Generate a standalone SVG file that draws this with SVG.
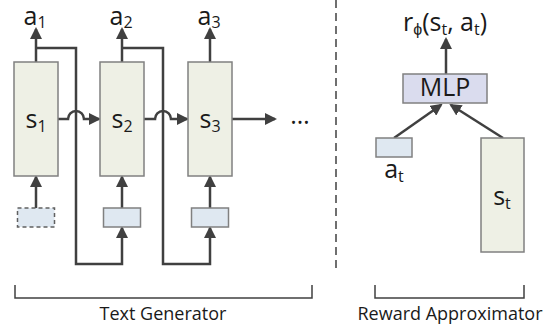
<svg xmlns="http://www.w3.org/2000/svg" width="557" height="329" viewBox="0 0 557 329">
<style>
  .sbox { fill: #eef0e5; stroke: #808080; stroke-width: 1.5; }
  .ibox { fill: #dfe8f1; stroke: #808080; stroke-width: 1.5; }
  .dbox { fill: #dfe8f1; stroke: #606060; stroke-width: 1.5; stroke-dasharray: 4 3; }
  .mlp { fill: #dadcee; stroke: #808080; stroke-width: 1.5; }
  .ln { fill: none; stroke: #404040; stroke-width: 2.5; }
  .br { fill: none; stroke: #404040; stroke-width: 1.5; }
  .lbl { font-family: "Open Sans", "Liberation Sans", sans-serif; font-size: 25px; fill: #1a1a1a; }
  .cap { font-family: "Open Sans", "Liberation Sans", sans-serif; font-size: 18px; fill: #1a1a1a; }
  .sub { font-size: 16px; }
</style>
<defs>
  <marker id="ah" markerUnits="userSpaceOnUse" markerWidth="12" markerHeight="12" viewBox="0 0 12 12" refX="10" refY="6" orient="auto">
    <path d="M0,0 L12,6 L0,12 z" fill="#404040"/>
  </marker>
</defs>

<g id="connectors">
  <line class="ln" x1="36" y1="62" x2="36" y2="29" marker-end="url(#ah)"/>
  <line class="ln" x1="122" y1="62" x2="122" y2="29" marker-end="url(#ah)"/>
  <line class="ln" x1="210" y1="62" x2="210" y2="29" marker-end="url(#ah)"/>
  <path class="ln" d="M36,48 H76 V264 H122 V228" marker-end="url(#ah)"/>
  <path class="ln" d="M122,48 H163 V264 H210 V228" marker-end="url(#ah)"/>
  <line class="ln" x1="36" y1="208" x2="36" y2="177" marker-end="url(#ah)"/>
  <line class="ln" x1="122" y1="208" x2="122" y2="177" marker-end="url(#ah)"/>
  <line class="ln" x1="210" y1="208" x2="210" y2="177" marker-end="url(#ah)"/>
  <path class="ln" d="M58,119 H68 A8,8 0 0 1 84,119 H99" marker-end="url(#ah)"/>
  <path class="ln" d="M144,119 H155 A8,8 0 0 1 171,119 H187" marker-end="url(#ah)"/>
  <line class="ln" x1="232" y1="119" x2="275" y2="119" marker-end="url(#ah)"/>
  <line class="ln" x1="394" y1="138" x2="441" y2="105" marker-end="url(#ah)"/>
  <line class="ln" x1="503" y1="138" x2="451" y2="105" marker-end="url(#ah)"/>
  <line class="ln" x1="446" y1="74" x2="446" y2="39" marker-end="url(#ah)"/>
</g>

<g id="s1">
  <rect class="sbox" x="14" y="62" width="44" height="114"/>
  <text class="lbl" x="36" y="128" text-anchor="middle">s<tspan class="sub" dy="4">1</tspan></text>
</g>
<g id="s2">
  <rect class="sbox" x="100" y="62" width="44" height="114"/>
  <text class="lbl" x="122" y="128" text-anchor="middle">s<tspan class="sub" dy="4">2</tspan></text>
</g>
<g id="s3">
  <rect class="sbox" x="188" y="62" width="44" height="114"/>
  <text class="lbl" x="210" y="128" text-anchor="middle">s<tspan class="sub" dy="4">3</tspan></text>
</g>
<g id="a1"><text class="lbl" x="35" y="25" text-anchor="middle" font-size="22">a<tspan class="sub" dy="3">1</tspan></text></g>
<g id="a2"><text class="lbl" x="121" y="25" text-anchor="middle" font-size="22">a<tspan class="sub" dy="3">2</tspan></text></g>
<g id="a3"><text class="lbl" x="209" y="25" text-anchor="middle" font-size="22">a<tspan class="sub" dy="3">3</tspan></text></g>
<g id="in1"><rect class="dbox" x="17.5" y="208" width="37" height="19"/></g>
<g id="in2"><rect class="ibox" x="103.5" y="208" width="37" height="19"/></g>
<g id="in3"><rect class="ibox" x="191.5" y="208" width="37" height="19"/></g>
<g id="ellipsis"><text class="lbl" x="300" y="124" text-anchor="middle">…</text></g>

<g id="divider"><line x1="336" y1="0" x2="336" y2="273" stroke="#404040" stroke-width="1.5" stroke-dasharray="8 5"/></g>

<g id="text-generator">
  <path class="br" d="M15,285 V298 H312 V285"/>
  <text class="cap" x="163" y="320" text-anchor="middle">Text Generator</text>
</g>
<g id="reward-approximator">
  <path class="br" d="M375,285 V298 H524 V285"/>
  <text class="cap" x="450" y="320" text-anchor="middle">Reward Approximator</text>
</g>

<g id="mlp">
  <rect class="mlp" x="403" y="74" width="84" height="29"/>
  <text class="lbl" x="445" y="96" text-anchor="middle" font-size="21">MLP</text>
</g>
<g id="reward">
  <text class="lbl" x="445" y="31" text-anchor="middle" font-size="24">r<tspan class="sub" dy="4">ϕ</tspan><tspan dy="-4">(s</tspan><tspan class="sub" dy="4">t</tspan><tspan dy="-4">, a</tspan><tspan class="sub" dy="4">t</tspan><tspan dy="-4">)</tspan></text>
</g>
<g id="at">
  <rect class="ibox" x="376" y="138" width="36" height="19"/>
  <text class="lbl" x="394" y="178" text-anchor="middle">a<tspan class="sub" dy="4">t</tspan></text>
</g>
<g id="st">
  <rect class="sbox" x="481" y="138" width="43" height="114"/>
  <text class="lbl" x="502" y="205" text-anchor="middle">s<tspan class="sub" dy="4">t</tspan></text>
</g>
</svg>
